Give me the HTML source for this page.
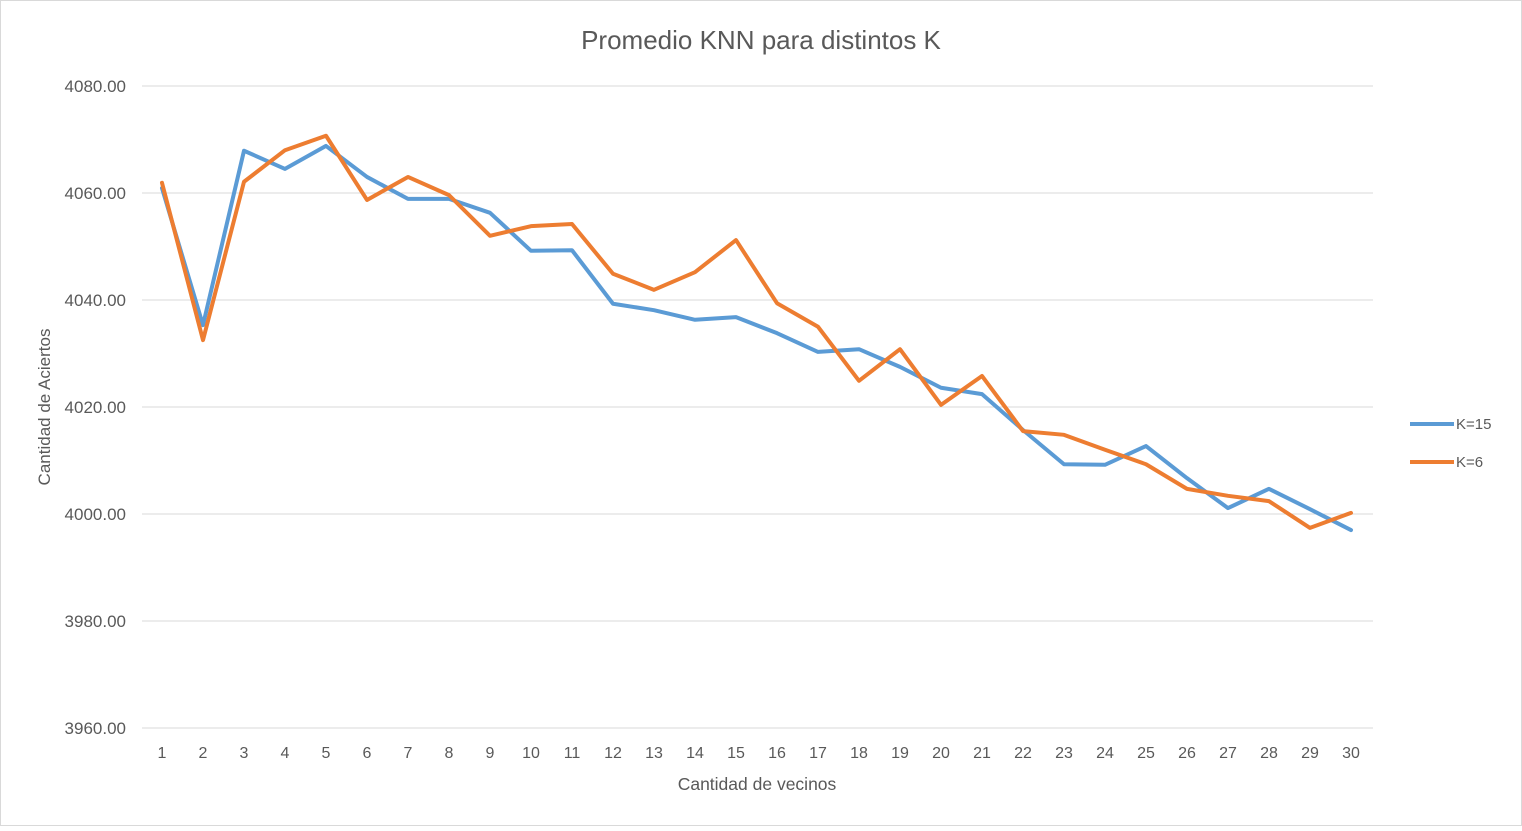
<!DOCTYPE html>
<html><head><meta charset="utf-8"><style>
body{margin:0;background:#fff;}
svg{font-family:"Liberation Sans",sans-serif;}
</style></head><body>
<svg id="chart" width="1522" height="826">
<rect x="0.5" y="0.5" width="1521" height="825" fill="#fff" stroke="#d9d9d9"/>
<text x="761" y="49" text-anchor="middle" font-size="26" fill="#595959">Promedio KNN para distintos K</text>
<g id="grid"></g><g id="yticks"></g><g id="xticks"></g><g id="series"></g>
<text x="757" y="790" text-anchor="middle" font-size="17.5" fill="#595959">Cantidad de vecinos</text>
<text transform="translate(50,407) rotate(-90)" text-anchor="middle" font-size="17" fill="#595959">Cantidad de Aciertos</text>
<g><line x1="1410" y1="424" x2="1454" y2="424" stroke="#5b9bd5" stroke-width="4"/><text x="1456" y="429" font-size="15" fill="#595959">K=15</text></g>
<g><line x1="1410" y1="462" x2="1454" y2="462" stroke="#ed7d31" stroke-width="4"/><text x="1456" y="467" font-size="15" fill="#595959">K=6</text></g>
</svg>
<script>
const categories=[1,2,3,4,5,6,7,8,9,10,11,12,13,14,15,16,17,18,19,20,21,22,23,24,25,26,27,28,29,30];
const k15=[4060.9,4035.3,4067.9,4064.5,4068.8,4063.0,4058.9,4058.9,4056.3,4049.2,4049.3,4039.3,4038.1,4036.3,4036.8,4033.8,4030.3,4030.8,4027.5,4023.6,4022.4,4015.7,4009.3,4009.2,4012.7,4006.7,4001.1,4004.7,4000.9,3997.0];
const k6=[4061.9,4032.5,4062.1,4068.0,4070.7,4058.7,4063.0,4059.6,4052.0,4053.8,4054.2,4044.9,4041.9,4045.2,4051.2,4039.4,4035.0,4024.9,4030.8,4020.4,4025.8,4015.5,4014.8,4012.0,4009.3,4004.7,4003.4,4002.4,3997.4,4000.2];
const yTicks=[3960,3980,4000,4020,4040,4060,4080];
const NS='http://www.w3.org/2000/svg';
function y(v){return 728-(v-3960)*(642/120);}
function x(i){return 162+i*(1189/29);}
function mk(t,a,p){const e=document.createElementNS(NS,t);for(const k in a)e.setAttribute(k,a[k]);p.appendChild(e);return e;}
const grid=document.getElementById('grid'),yt=document.getElementById('yticks'),xt=document.getElementById('xticks'),se=document.getElementById('series');
yTicks.forEach(v=>{
 const l=mk('line',{x1:142,x2:1373,y1:y(v),y2:y(v),stroke:'#d9d9d9','stroke-width':1},grid);
 
 
 const t=mk('text',{x:126,y:y(v)+6,'text-anchor':'end','font-size':17,fill:'#595959'},yt);
 t.textContent=v.toFixed(2);
 
 
});
categories.forEach((c,i)=>{
 const t=mk('text',{x:x(i),y:758,'text-anchor':'middle','font-size':16,fill:'#595959'},xt);
 t.textContent=c;
 
 
});
[[k15,'#5b9bd5','series-k15'],[k6,'#ed7d31','series-k6']].forEach(([d,c,n])=>{
 const p=mk('polyline',{points:d.map((v,i)=>x(i)+','+y(v)).join(' '),fill:'none',stroke:c,'stroke-width':4,'stroke-linejoin':'round','stroke-linecap':'round'},se);
 
 
});
</script>
</body></html>
